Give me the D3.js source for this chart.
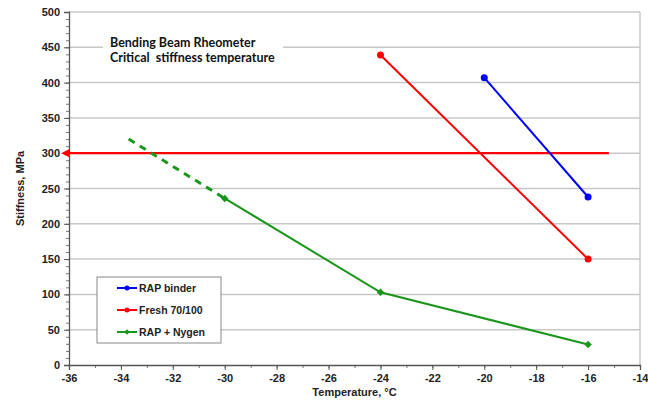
<!DOCTYPE html>
<html><head><meta charset="utf-8">
<script src="https://cdn.jsdelivr.net/npm/d3@7"></script>
<style>body{margin:0;background:#fff}svg{display:block}</style>
</head><body>
<svg id="c" width="648" height="401"></svg>
<script>
const xTicks = [-36,-34,-32,-30,-28,-26,-24,-22,-20,-18,-16,-14];
const yTicks = [0,50,100,150,200,250,300,350,400,450,500];
const seriesNames = ["RAP binder","Fresh 70/100","RAP + Nygen"];
const seriesColors = ["#0000ff","#ff0000","#1a961a"];
const rapBinder = [[-20,407],[-16,238]];
const fresh = [[-24,439],[-16,150]];
const nygen = [[-30,236],[-24,103],[-16,29]];
const nygenExtrap = [[-33.7,320],[-30,236]];
const critical = [[-36,300],[-15.2,300]];
const titleLines = ["Bending Beam Rheometer","Critical  stiffness temperature"];

const svg = d3.select("#c");
const x = d3.scaleLinear().domain([-36,-14]).range([69,640]);
const y = d3.scaleLinear().domain([0,500]).range([365,12]);
const font = "Arial, 'Liberation Sans', sans-serif";

// gridlines
svg.append("g").selectAll("line").data(yTicks.filter(d=>d>0)).join("line")
  .attr("x1",x(-36)).attr("x2",x(-14)).attr("y1",d=>y(d)).attr("y2",d=>y(d))
  .attr("stroke","#c8c8c8").attr("stroke-width",1.5);
svg.append("line").attr("x1",x(-14)).attr("x2",x(-14)).attr("y1",y(0)).attr("y2",y(500))
  .attr("stroke","#c8c8c8").attr("stroke-width",1.5);

// minor ticks
svg.append("g").attr("transform",`translate(${x(-36)},0)`)
  .call(d3.axisLeft(y).tickValues(d3.range(0,501,10)).tickSize(3).tickFormat(""))
  .call(g=>{g.select(".domain").remove();g.selectAll("line").attr("stroke","#777");});
svg.append("g").attr("transform",`translate(0,${y(0)})`)
  .call(d3.axisBottom(x).tickValues(d3.range(-36,-13,1)).tickSize(3).tickFormat(""))
  .call(g=>{g.select(".domain").remove();g.selectAll("line").attr("stroke","#777");});

// axes
const yAxis = svg.append("g").attr("transform",`translate(${x(-36)},0)`)
  .call(d3.axisLeft(y).tickValues(yTicks).tickSize(5).tickPadding(4).tickFormat(d=>String(d)));
const xAxis = svg.append("g").attr("transform",`translate(0,${y(0)})`)
  .call(d3.axisBottom(x).tickValues(xTicks).tickSize(5).tickPadding(4).tickFormat(d=>String(d)));
[xAxis,yAxis].forEach(g=>{
  g.select(".domain").attr("stroke","#555").attr("stroke-width",1.3);
  g.selectAll(".tick line").attr("stroke","#555");
  g.selectAll("text").attr("font-family",font).attr("font-size",11).attr("font-weight","bold").attr("fill","#222");
});

// title box
const tb = svg.append("g");
tb.append("rect").attr("x",103).attr("y",29).attr("width",180).attr("height",42).attr("fill","#fff");
tb.selectAll("text").data(titleLines).join("text")
  .attr("x",110).attr("y",(d,i)=>47+i*15)
  .attr("font-family","Lato, 'Open Sans', sans-serif").attr("font-weight","bold").attr("font-size",12.5).attr("fill","#111")
  .attr("xml:space","preserve").style("white-space","pre")
  .text(d=>d);

const line = d3.line().x(d=>x(d[0])).y(d=>y(d[1]));

// critical line with arrow
svg.append("defs").append("marker").attr("id","arr").attr("viewBox","0 0 10 10")
  .attr("refX",1).attr("refY",5).attr("markerWidth",4).attr("markerHeight",4).attr("orient","auto-start-reverse")
  .append("path").attr("d","M0,0L10,5L0,10z").attr("fill","#ff0000");
svg.append("path").attr("d",line(critical)).attr("stroke","#ff0000").attr("stroke-width",2.2)
  .attr("fill","none").attr("marker-start","url(#arr)");

// extrapolation
svg.append("path").attr("d",line(nygenExtrap)).attr("stroke",seriesColors[2]).attr("stroke-width",3)
  .attr("stroke-dasharray","7,6").attr("fill","none");

const diamond = d3.symbol(d3.symbolSquare,28);
const allSeries = [rapBinder,fresh,nygen];
allSeries.forEach((s,i)=>{
  svg.append("path").attr("d",line(s)).attr("stroke",seriesColors[i]).attr("stroke-width",2)
    .attr("fill","none");
  if(i<2){
    svg.append("g").selectAll("circle").data(s).join("circle")
      .attr("cx",d=>x(d[0])).attr("cy",d=>y(d[1])).attr("r",3.5).attr("fill",seriesColors[i]);
  } else {
    svg.append("g").selectAll("path").data(s).join("path")
      .attr("transform",d=>`translate(${x(d[0])},${y(d[1])}) rotate(45)`)
      .attr("d",diamond).attr("fill",seriesColors[i]);
  }
});

// legend
const lg = svg.append("g");
lg.append("rect").attr("x",97).attr("y",277).attr("width",124).attr("height",66)
  .attr("fill","#fff").attr("stroke","#888").attr("stroke-width",1);
seriesNames.forEach((n,i)=>{
  const yy = 288 + i*22;
  lg.append("line").attr("x1",117).attr("x2",137).attr("y1",yy).attr("y2",yy)
    .attr("stroke",seriesColors[i]).attr("stroke-width",2);
  if(i<2) lg.append("circle").attr("cx",127).attr("cy",yy).attr("r",2.5).attr("fill",seriesColors[i]);
  else lg.append("path").attr("transform",`translate(127,${yy}) rotate(45)`).attr("d",d3.symbol(d3.symbolSquare,16)).attr("fill",seriesColors[i]);
  lg.append("text").attr("x",139).attr("y",yy+4).attr("font-family",font).attr("font-weight","bold")
    .attr("font-size",10.5).attr("fill","#222").text(n);
});

// axis titles
svg.append("text").attr("x",x(-25)).attr("y",396).attr("text-anchor","middle")
  .attr("font-family",font).attr("font-weight","bold").attr("font-size",11).attr("fill","#222").text("Temperature, °C");
svg.append("text").attr("transform",`translate(24,${y(250)}) rotate(-90)`).attr("text-anchor","middle")
  .attr("font-family",font).attr("font-weight","bold").attr("font-size",11).attr("fill","#222").text("Stiffness, MPa");
</script>
</body></html>
